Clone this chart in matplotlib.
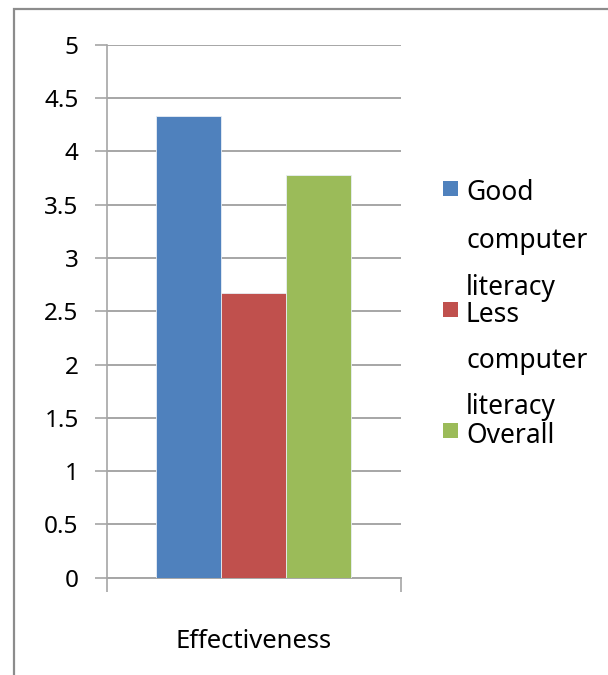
import matplotlib
matplotlib.use("Agg")
import matplotlib.pyplot as plt
from matplotlib.patches import Rectangle

# Data
categories = ["Effectiveness"]
series_names = ["Good\ncomputer\nliteracy", "Less\ncomputer\nliteracy", "Overall"]
series_values = [[4.33], [2.67], [3.78]]
series_colors = ["#4F81BD", "#C0504D", "#9BBB59"]
y_ticks = [0, 0.5, 1, 1.5, 2, 2.5, 3, 3.5, 4, 4.5, 5]
y_tick_labels = ["0", "0.5", "1", "1.5", "2", "2.5", "3", "3.5", "4", "4.5", "5"]

plt.rcParams["font.family"] = ["Noto Sans", "DejaVu Sans"]

W, H = 608, 675
fig = plt.figure(figsize=(W / 100, H / 100), dpi=100)

# Chart-area frame (runs off the right and bottom edges)
fig.patches.append(Rectangle((14 / W, -0.1), 1.2, 1 - 9 / H + 0.1,
                             transform=fig.transFigure, fill=False,
                             edgecolor="#8C8C8C", linewidth=1.6, zorder=0))

ax_left, ax_right = 106.5 / W, 400.5 / W
ax_bottom, ax_top = 1 - 577.7 / H, 1 - 44.7 / H
ax = fig.add_axes([ax_left, ax_bottom, ax_right - ax_left, ax_top - ax_bottom])

grid_color = "#A6A6A6"
bar_w = 0.22
n = len(series_values)
for i, (vals, col) in enumerate(zip(series_values, series_colors)):
    xs = [c + (i - (n - 1) / 2) * bar_w for c in range(len(categories))]
    ax.bar(xs, vals, width=bar_w, color=col, edgecolor="#E8EEF5",
           linewidth=0.6, zorder=3)

ax.set_xlim(-0.5, len(categories) - 0.5)
ax.set_ylim(0, 5)
ax.set_yticks(y_ticks)
ax.set_yticklabels(y_tick_labels, fontsize=17.5)
ax.yaxis.grid(True, color=grid_color, linewidth=1.4, zorder=0)
ax.set_axisbelow(True)

ax.tick_params(axis="y", length=9, width=1.2, color=grid_color, pad=11,
               labelcolor="black")
ax.set_xticks(range(len(categories)))
ax.set_xticklabels(categories, fontsize=18.5)
ax.tick_params(axis="x", length=0, pad=37, labelcolor="black")

# Category boundary tick marks hanging below the baseline
ax.set_xticks([-0.5 + k for k in range(len(categories) + 1)], minor=True)
ax.tick_params(axis="x", which="minor", length=10, width=1.2, color=grid_color)

for side in ("top", "right"):
    ax.spines[side].set_visible(False)
ax.spines["left"].set_color(grid_color)
ax.spines["left"].set_linewidth(1.2)
ax.spines["bottom"].set_color(grid_color)
ax.spines["bottom"].set_linewidth(1.4)

# Legend drawn as swatches with wrapped labels
legend_rows = [
    (series_colors[0], 181, ["Good", "computer", "literacy"], [193, 241, 288]),
    (series_colors[1], 302, ["Less", "computer", "literacy"], [315, 361, 407]),
    (series_colors[2], 423, ["Overall"], [436]),
]
for col, sq_top, lines, ys in legend_rows:
    fig.patches.append(Rectangle((443 / W, 1 - (sq_top + 15) / H), 15 / W, 15 / H,
                                 transform=fig.transFigure, facecolor=col,
                                 edgecolor="none"))
    for txt, yc in zip(lines, ys):
        fig.text(466 / W, 1 - yc / H, txt, fontsize=19, va="center",
                 ha="left", color="black")

fig.savefig("out.png", dpi=100, facecolor="white")
